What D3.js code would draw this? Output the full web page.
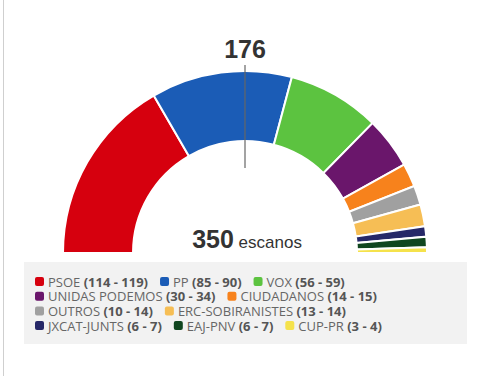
<!DOCTYPE html>
<html>
<head>
<meta charset="utf-8">
<script src="https://cdn.jsdelivr.net/npm/d3@7"></script>
<style>
  body { margin: 0; background: #fff; }
  svg { display: block; }
</style>
</head>
<body>
<div id="chart"></div>
<script>
// seat projections (min - max) per party
const parties = ["PSOE", "PP", "VOX", "UNIDAS PODEMOS", "CIUDADANOS", "OUTROS", "ERC-SOBIRANISTES", "JXCAT-JUNTS", "EAJ-PNV", "CUP-PR"];
const seatsMin = [114, 85, 56, 30, 14, 10, 13, 6, 6, 3];
const seatsMax = [119, 90, 59, 34, 15, 14, 14, 7, 7, 4];
const colors = ["#d6000e", "#1b5cb6", "#5cc340", "#6a166b", "#f7821c", "#a0a0a0", "#f6be55", "#262868", "#10461f", "#f5e24b"];
const totalSeats = 350;
const majority = 176;

const width = 486, height = 376;
const cx = 245, cy = 253;
const outerR = 182, innerR = 112;

const data = parties.map(function(p, i) {
    return { label: p, min: seatsMin[i], max: seatsMax[i], value: (seatsMin[i] + seatsMax[i]) / 2, color: colors[i] };
});

const svg = d3.select("#chart").append("svg")
    .attr("width", width)
    .attr("height", height);

// thin border on the left
svg.append("line")
    .attr("x1", 3.5).attr("x2", 3.5)
    .attr("y1", 0).attr("y2", height)
    .attr("stroke", "#cfcfcf");

const pie = d3.pie().sort(null)
    .startAngle(-Math.PI / 2)
    .endAngle(Math.PI / 2)
    .value(function(d) { return d.value; });

const arc = d3.arc().innerRadius(innerR).outerRadius(outerR);

const g = svg.append("g")
    .attr("transform", "translate(" + cx + "," + cy + ")");

g.selectAll("path")
    .data(pie(data))
    .enter().append("path")
    .attr("d", arc)
    .attr("fill", function(d) { return d.data.color; })
    .attr("stroke", "#fff")
    .attr("stroke-width", 2);

// majority line
const angle = d3.scaleLinear().domain([0, totalSeats]).range([-Math.PI / 2, Math.PI / 2]);
const a = angle(totalSeats / 2);
g.append("line")
    .attr("x1", Math.sin(a) * (outerR + 6)).attr("y1", -Math.cos(a) * (outerR + 6))
    .attr("x2", Math.sin(a) * 85).attr("y2", -Math.cos(a) * 85)
    .attr("stroke", "#666")
    .attr("stroke-width", 1.2);

g.append("text")
    .attr("x", 0).attr("y", -195)
    .attr("text-anchor", "middle")
    .style("font-family", "'Liberation Sans', Arial, sans-serif")
    .style("font-weight", "bold")
    .style("font-size", "25px")
    .style("fill", "#333")
    .text(majority);

const total = g.append("text")
    .attr("x", 2).attr("y", -5)
    .attr("text-anchor", "middle")
    .style("font-family", "'Liberation Sans', Arial, sans-serif")
    .style("fill", "#333");
total.append("tspan")
    .style("font-weight", "bold")
    .style("font-size", "25px")
    .text(d3.sum(data, function(d) { return d.value; }));
total.append("tspan")
    .style("font-size", "17px")
    .text(" escanos");

// legend
const box = { x: 24, y: 262, w: 443, h: 82 };
svg.append("rect")
    .attr("x", box.x).attr("y", box.y)
    .attr("width", box.w).attr("height", box.h)
    .attr("fill", "#f2f2f2");

const legend = svg.append("g").attr("class", "legend");
const lineH = 14.7;
const startX = 35, maxX = box.x + box.w - 10;
let lx = startX, ly = 282;

data.forEach(function(d) {
    const item = legend.append("g");
    item.append("rect")
        .attr("width", 9).attr("height", 9)
        .attr("rx", 2)
        .attr("y", -5)
        .attr("fill", d.color);
    const t = item.append("text")
        .attr("x", 13)
        .attr("dy", "0.35em")
        .style("font-family", "'Open Sans', sans-serif")
        .style("font-size", "13px");
    t.append("tspan").style("fill", "#666").text(d.label + " ");
    t.append("tspan").style("fill", "#555").style("font-weight", "bold")
        .text("(" + d.min + " - " + d.max + ")");
    const w = 13 + t.node().getComputedTextLength();
    if (lx + w > maxX) { lx = startX; ly += lineH; }
    item.attr("transform", "translate(" + lx + "," + ly + ")");
    lx += w + 12;
});
</script>
</body>
</html>
